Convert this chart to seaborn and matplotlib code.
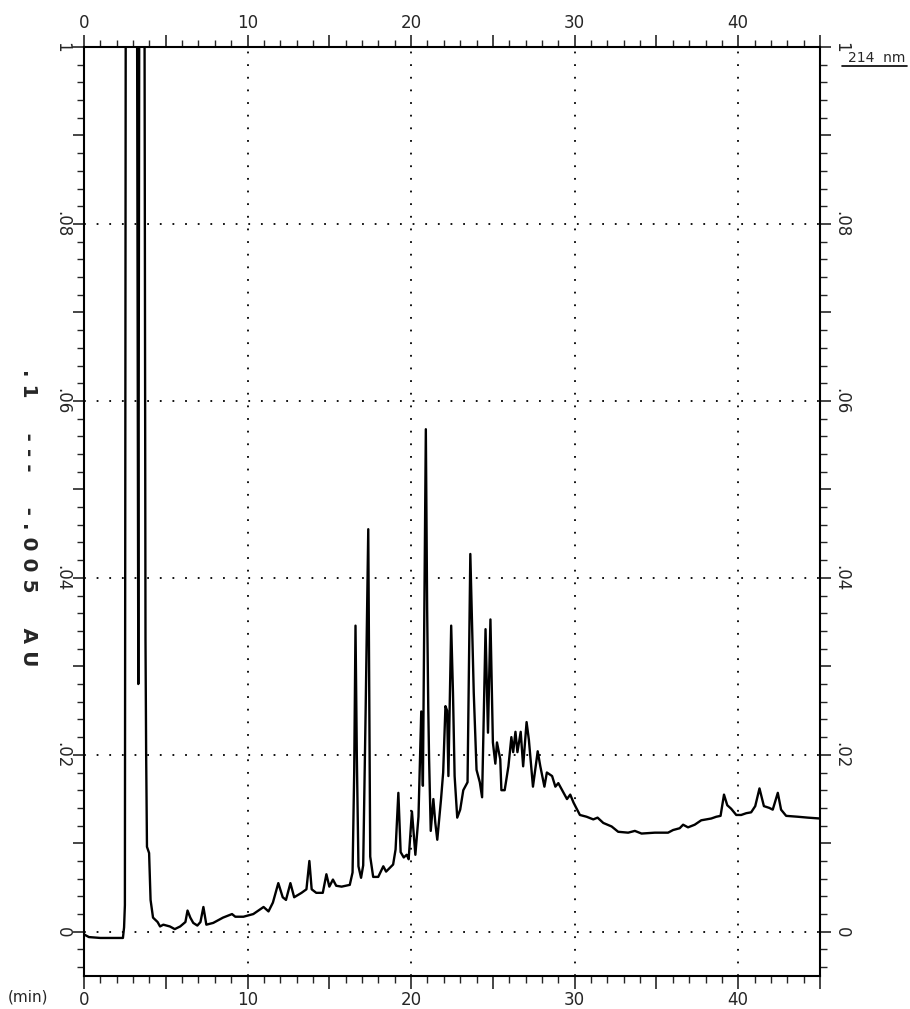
import matplotlib
matplotlib.use("Agg")
import matplotlib.pyplot as plt
from matplotlib.ticker import MultipleLocator, FuncFormatter
from matplotlib.lines import Line2D
from matplotlib import font_manager
import seaborn as sns

# ---- data (time in min, absorbance in AU) ----
time_min = [
    0.0, 0.3, 1.0, 2.0, 2.38, 2.45, 2.5, 2.6,
    3.15, 3.32, 3.45, 3.62, 3.76, 3.8, 3.85, 3.98, 4.07, 4.22, 4.5, 4.65,
    4.85, 5.25, 5.55, 5.88, 6.2, 6.33, 6.5, 6.68, 6.93, 7.12,
    7.3, 7.48, 7.9, 8.5, 9.05, 9.25, 9.75, 10.35, 10.98, 11.28,
    11.55, 11.88, 12.15, 12.35, 12.62, 12.85, 13.3, 13.6, 13.78, 13.92,
    14.2, 14.6, 14.82, 15.0, 15.22, 15.42, 15.75, 16.25, 16.42, 16.52,
    16.6, 16.68, 16.78, 16.94, 17.07, 17.22, 17.38, 17.5, 17.68, 17.99,
    18.3, 18.47, 18.9, 19.05, 19.22, 19.36, 19.55, 19.73, 19.85, 20.05,
    20.15, 20.26, 20.45, 20.62, 20.72, 20.9, 20.98, 21.05, 21.1, 21.2,
    21.36, 21.48, 21.6, 21.83, 21.96, 22.1, 22.2, 22.28, 22.45, 22.56,
    22.66, 22.82, 23.0, 23.19, 23.45, 23.62, 23.75, 23.83, 24.0, 24.2,
    24.34, 24.55, 24.7, 24.85, 25.0, 25.15, 25.25, 25.45, 25.52, 25.72,
    25.95, 26.13, 26.24, 26.38, 26.5, 26.7, 26.85, 27.06, 27.2, 27.45,
    27.74, 27.9, 28.15, 28.3, 28.62, 28.82, 29.0, 29.32, 29.53, 29.73,
    29.93, 30.32, 30.73, 31.14, 31.4, 31.75, 32.26, 32.66, 33.27, 33.68,
    34.09, 34.9, 35.71, 36.02, 36.42, 36.63, 36.93, 37.34, 37.74, 38.35,
    38.66, 38.92, 39.13, 39.33, 39.57, 39.88, 40.18, 40.49, 40.79, 41.04,
    41.3, 41.57, 41.9, 42.11, 42.42, 42.62, 42.93, 43.64, 44.25, 45.0,
]
absorbance_au = [
    -0.0003, -0.0006, -0.0007, -0.0007, -0.0007, 0.0005, 0.003, 0.2,
    0.2, 0.028, 0.2, 0.2, 0.033, 0.020, 0.0096, 0.0089, 0.0036, 0.0016, 0.0011, 0.0006,
    0.0008, 0.0006, 0.0003, 0.0006, 0.0011, 0.0024, 0.0016, 0.0010, 0.0007, 0.0011,
    0.0028, 0.0008, 0.0010, 0.0016, 0.0020, 0.0017, 0.0017, 0.0020, 0.0028, 0.0023,
    0.0033, 0.0055, 0.0039, 0.0036, 0.0055, 0.0039, 0.0044, 0.0048, 0.0080, 0.0048,
    0.0044, 0.0044, 0.0065, 0.0051, 0.0059, 0.0052, 0.0051, 0.0053, 0.0067, 0.018,
    0.0346, 0.020, 0.0074, 0.0061, 0.0075, 0.025, 0.0455, 0.0085, 0.0062, 0.0062,
    0.0074, 0.0068, 0.0076, 0.0093, 0.0157, 0.0090, 0.0084, 0.0087, 0.0082, 0.0136,
    0.0112, 0.0087, 0.0130, 0.0249, 0.0165, 0.0568, 0.0365, 0.0251, 0.0195, 0.0114,
    0.0150, 0.0123, 0.0104, 0.0150, 0.0180, 0.0255, 0.0250, 0.0176, 0.0346, 0.0270,
    0.0176, 0.0129, 0.0138, 0.0160, 0.0169, 0.0427, 0.0327, 0.0270, 0.0183, 0.0169,
    0.0152, 0.0342, 0.0225, 0.0353, 0.0214, 0.0190, 0.0214, 0.0195, 0.0160, 0.0160,
    0.0187, 0.0220, 0.0203, 0.0226, 0.0203, 0.0226, 0.0187, 0.0237, 0.0217, 0.0164,
    0.0204, 0.0187, 0.0164, 0.0180, 0.0176, 0.0164, 0.0168, 0.0157, 0.0150, 0.0155,
    0.0146, 0.0132, 0.0130, 0.0127, 0.0129, 0.0123, 0.0119, 0.0113, 0.0112, 0.0114,
    0.0111, 0.0112, 0.0112, 0.0115, 0.0117, 0.0121, 0.0118, 0.0121, 0.0126, 0.0128,
    0.0130, 0.0131, 0.0155, 0.0143, 0.0139, 0.0132, 0.0132, 0.0134, 0.0135, 0.0142,
    0.0162, 0.0142, 0.0140, 0.0138, 0.0157, 0.0138, 0.0131, 0.0130, 0.0129, 0.0128,
]
assert len(time_min) == len(absorbance_au)

x_ticks_labeled = [0, 10, 20, 30, 40]
y_grid_values = [0.0, 0.02, 0.04, 0.06, 0.08]
x_grid_values = [10, 20, 30, 40]
y_label_map = {0.1: "1", 0.08: ".08", 0.06: ".06", 0.04: ".04", 0.02: ".02", 0.0: "0"}

sns.set_style("white")
available = {f.name for f in font_manager.fontManager.ttflist}
narrow = [f for f in ["DejaVu Sans Condensed", "Liberation Sans Narrow"] if f in available]
plt.rcParams["font.family"] = narrow + ["DejaVu Sans"]

W, H = 910, 1009
fig = plt.figure(figsize=(W / 100, H / 100), dpi=100)
L, R, T, B = 84, 820, 47, 976
ax = fig.add_axes([L / W, 1 - B / H, (R - L) / W, (B - T) / H])

sns.lineplot(x=time_min, y=absorbance_au, ax=ax, color="black",
             linewidth=1.7, estimator=None, sort=False)

ax.set_xlim(0, 45)
ax.set_ylim(-0.005, 0.1)

for v in y_grid_values:
    ax.axhline(v, color="black", linestyle=(0, (1, 6)), linewidth=1.3, zorder=0)
for v in x_grid_values:
    ax.axvline(v, color="black", linestyle=(0, (1, 6)), linewidth=1.3, zorder=0)

ax.xaxis.set_major_locator(MultipleLocator(5))
ax.xaxis.set_minor_locator(MultipleLocator(1))
ax.xaxis.set_major_formatter(FuncFormatter(
    lambda v, p: str(int(round(v))) if int(round(v)) in x_ticks_labeled else ""))

def ylab(v, p):
    for k, s in y_label_map.items():
        if abs(v - k) < 1e-6:
            return s
    return ""

ax.yaxis.set_major_locator(MultipleLocator(0.01))
ax.yaxis.set_minor_locator(MultipleLocator(0.002))
ax.yaxis.set_major_formatter(FuncFormatter(ylab))

ax.tick_params(axis="x", which="major", direction="out", length=9, width=1.2,
               top=True, bottom=True, labeltop=True, labelbottom=True,
               labelsize=12, pad=2)
ax.tick_params(axis="x", which="minor", direction="out", length=5, width=1.0,
               top=True, bottom=True)
ax.tick_params(axis="y", which="major", direction="out", length=8, width=1.2,
               left=True, right=True, labelleft=True, labelright=True,
               labelsize=12, labelrotation=-90, pad=1)
ax.tick_params(axis="y", which="minor", direction="out", length=5, width=1.0,
               left=True, right=True)
for lab in ax.get_yticklabels():
    lab.set_va("center")

for s in ax.spines.values():
    s.set_visible(True)
    s.set_linewidth(1.5)
    s.set_color("black")
ax.set_xlabel("")
ax.set_ylabel("")

fig.text(28 / W, 1 - 518 / H, ". 1     - - -     - . 0 0 5     A U", rotation=-90,
         ha="center", va="center", fontsize=14.5, fontweight="bold",
         family=["DejaVu Sans"])
fig.text(8 / W, 1 - 997 / H, "(min)", ha="left", va="center", fontsize=11)
fig.text(877 / W, 1 - 58 / H, "214  nm", ha="center", va="center", fontsize=10)
fig.add_artist(Line2D([842 / W, 907 / W], [1 - 66 / H, 1 - 66 / H],
                      color="black", linewidth=1.2))

fig.savefig("out.png", dpi=100, facecolor="white")
